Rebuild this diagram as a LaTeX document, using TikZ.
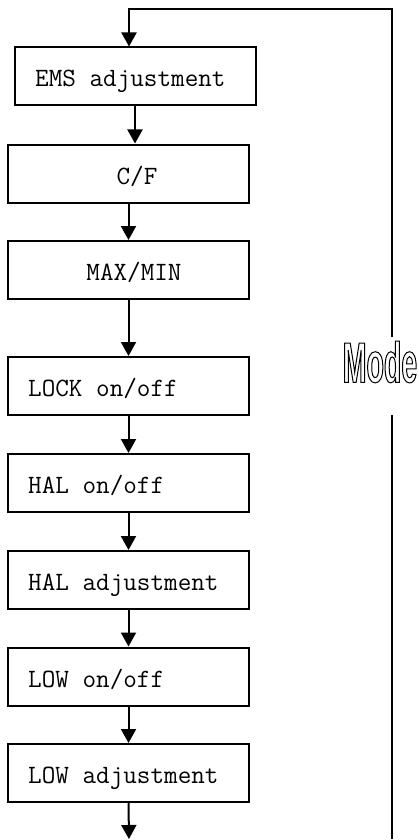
\documentclass[tikz,border=0pt]{standalone}
\usepackage{fontspec}
\usetikzlibrary{arrows.meta}
\newfontfamily\modefont[FakeStretch=0.5]{Liberation Sans Bold}
\begin{document}
\begin{tikzpicture}[x=1pt,y=-1pt,
  stepbox/.style={draw,line width=2pt,minimum width=241pt,minimum height=58pt,inner sep=0pt},
  boxtext/.style={inner sep=0pt,font=\ttfamily\fontsize{26.4}{26.4}\selectfont},
  flow/.style={line width=2pt,-{Triangle[width=15pt,length=14pt]}},
  plain/.style={line width=2pt}]
\useasboundingbox (0,0) rectangle (418,840);
\node[stepbox] (b1) at (135.5,76.5) {};
\node[boxtext,anchor=base west] (t1) at (35,87) {EMS adjustment};
\node[stepbox] (b2) at (128.5,173.5) {};
\node[boxtext,anchor=base] (t2) at (137,184) {C/F};
\node[stepbox] (b3) at (128.5,270) {};
\node[boxtext,anchor=base] (t3) at (134,280.5) {MAX/MIN};
\node[stepbox] (b4) at (128.5,386) {};
\node[stepbox] (b5) at (128.5,483) {};
\node[stepbox] (b6) at (128.5,580) {};
\node[stepbox] (b7) at (128.5,676.5) {};
\node[stepbox] (b8) at (128.5,773) {};
\node[boxtext,anchor=base west] (t4) at ([yshift=-10.5pt]b4.center -| 28,0) {LOCK on/off};
\node[boxtext,anchor=base west] (t5) at ([yshift=-10.5pt]b5.center -| 28,0) {HAL on/off};
\node[boxtext,anchor=base west] (t6) at ([yshift=-10.5pt]b6.center -| 28,0) {HAL adjustment};
\node[boxtext,anchor=base west] (t7) at ([yshift=-10.5pt]b7.center -| 28,0) {LOW on/off};
\node[boxtext,anchor=base west] (t8) at ([yshift=-10.5pt]b8.center -| 28,0) {LOW adjustment};
\coordinate (end) at (129,839);
\coordinate (tl) at (129,9);
\coordinate (tr) at (392,9);
\coordinate (rb) at (392,839);
\coordinate (rg1) at (392,337);
\coordinate (rg2) at (392,415);
\node[inner sep=0pt,font=\modefont\fontsize{57}{57}\selectfont] (mode) at (380,362)
  {\special{pdf:literal direct 1 Tr 1 w}Mode\special{pdf:literal direct 0 Tr}};
\draw[flow] (b1.south -| 135,0) -- (b2.north -| 135,0);
\draw[flow] (b2) -- (b3);
\draw[flow] (b3) -- (b4);
\draw[flow] (b4) -- (b5);
\draw[flow] (b5) -- (b6);
\draw[flow] (b6) -- (b7);
\draw[flow] (b7) -- (b8);
\draw[flow] (b8.south) -- (end);
\draw[plain] (rb) -- (rg2);
\draw[flow] (rg1) -- (tr) -- (tl) -- (b1.north -| tl);
\end{tikzpicture}
\end{document}
